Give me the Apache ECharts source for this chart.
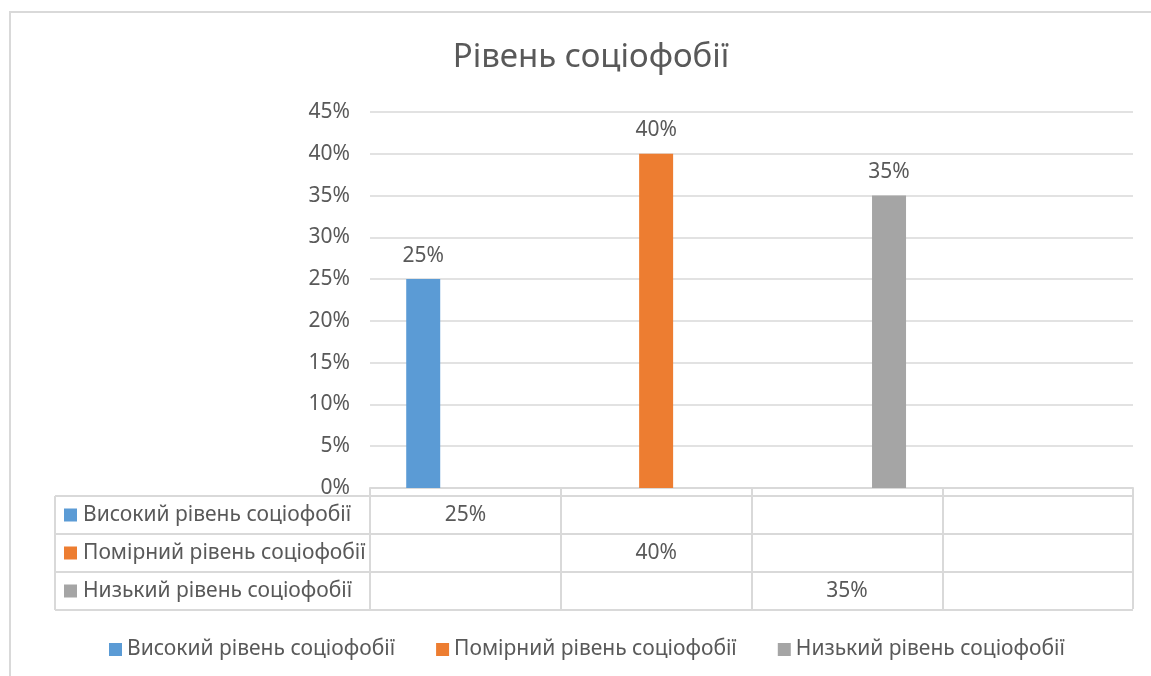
<!DOCTYPE html>
<html>
<head>
<meta charset="utf-8">
<script src="https://cdn.jsdelivr.net/npm/echarts@6/dist/echarts.min.js"></script>
<style>
html,body{margin:0;padding:0;background:#fff;}
#c{width:1151px;height:676px;}
</style>
</head>
<body>
<div id="c"></div>
<script>
const titleText = 'Рівень соціофобії';
const categories = ['', '', '', ''];
const seriesNames = ['Високий рівень соціофобії', 'Помірний рівень соціофобії', 'Низький рівень соціофобії'];
const highValues = [25, null, null, null];
const moderateValues = [null, 40, null, null];
const lowValues = [null, null, 35, null];
const yTicks = [0, 5, 10, 15, 20, 25, 30, 35, 40, 45];
const colors = ['#5B9BD5', '#ED7D31', '#A5A5A5'];

const allValues = [highValues, moderateValues, lowValues];
const FONT = 'Noto Sans';
const TXT = '#595959';
const LINE = '#D9D9D9';

const chart = echarts.init(document.getElementById('c'));

// table geometry (layout only)
const tblLeft = 55, tblRight = 1133, rowTop = 496, rowH = 38;

const graphics = [
  { type: 'rect', shape: { x: 10, y: 12, width: 1300, height: 800 }, style: { fill: 'none', stroke: LINE, lineWidth: 2 }, silent: true }
];
for (let i = 0; i <= seriesNames.length; i++) {
  const y = rowTop + i * rowH;
  graphics.push({ type: 'line', shape: { x1: tblLeft, y1: y, x2: tblRight, y2: y }, style: { stroke: LINE, lineWidth: 2 }, silent: true });
}
graphics.push({ type: 'line', shape: { x1: tblLeft, y1: rowTop, x2: tblLeft, y2: rowTop + rowH * seriesNames.length }, style: { stroke: LINE, lineWidth: 2 }, silent: true });
seriesNames.forEach((n, i) => {
  const cy = rowTop + rowH * i + rowH / 2;
  graphics.push({ type: 'rect', shape: { x: 64, y: cy - 6.5, width: 13, height: 13 }, style: { fill: colors[i] }, silent: true });
  graphics.push({ type: 'text', x: 83, y: cy, style: { text: n, fill: TXT, font: '21px "' + FONT + '"', verticalAlign: 'middle', textAlign: 'left' }, silent: true });
});

const option = {
  animation: false,
  color: colors,
  textStyle: { fontFamily: FONT },
  title: {
    text: titleText,
    left: 586,
    textAlign: 'center',
    top: 36,
    textStyle: { fontFamily: FONT, fontSize: 33, fontWeight: 'normal', color: TXT }
  },
  grid: { left: 370, right: 18, top: 112, bottom: 188, containLabel: false },
  legend: {
    data: seriesNames,
    left: 104,
    top: 634,
    icon: 'rect',
    itemWidth: 13,
    itemHeight: 13,
    itemGap: 41,
    textStyle: { fontFamily: FONT, fontSize: 21, color: TXT }
  },
  xAxis: {
    type: 'category',
    data: categories,
    axisLine: { show: true, lineStyle: { color: LINE, width: 2 } },
    axisTick: { show: true, interval: 0, length: 121, lineStyle: { color: LINE, width: 2 } },
    axisLabel: {
      interval: 0,
      margin: 8,
      formatter: function (v, idx) {
        return allValues.map(arr => arr[idx] == null ? '{c|\u00a0}' : '{c|' + arr[idx] + '%}').join('\n');
      },
      rich: { c: { fontFamily: FONT, fontSize: 21, color: TXT, lineHeight: 38, height: 38 } }
    }
  },
  yAxis: {
    type: 'value',
    min: 0,
    max: 45,
    interval: 5,
    axisLine: { show: false },
    axisTick: { show: false },
    splitLine: { lineStyle: { color: LINE, width: 1.5 } },
    axisLabel: { formatter: '{value}%', fontFamily: FONT, fontSize: 21, color: TXT, margin: 20 }
  },
  graphic: graphics,
  series: allValues.map((vals, i) => ({
    name: seriesNames[i],
    type: 'bar',
    data: vals,
    barWidth: 34,
    barGap: '24%',
    label: { show: true, position: 'top', distance: 13, formatter: '{c}%', fontFamily: FONT, fontSize: 21, color: TXT }
  }))
};
chart.setOption(option);
</script>
</body>
</html>
